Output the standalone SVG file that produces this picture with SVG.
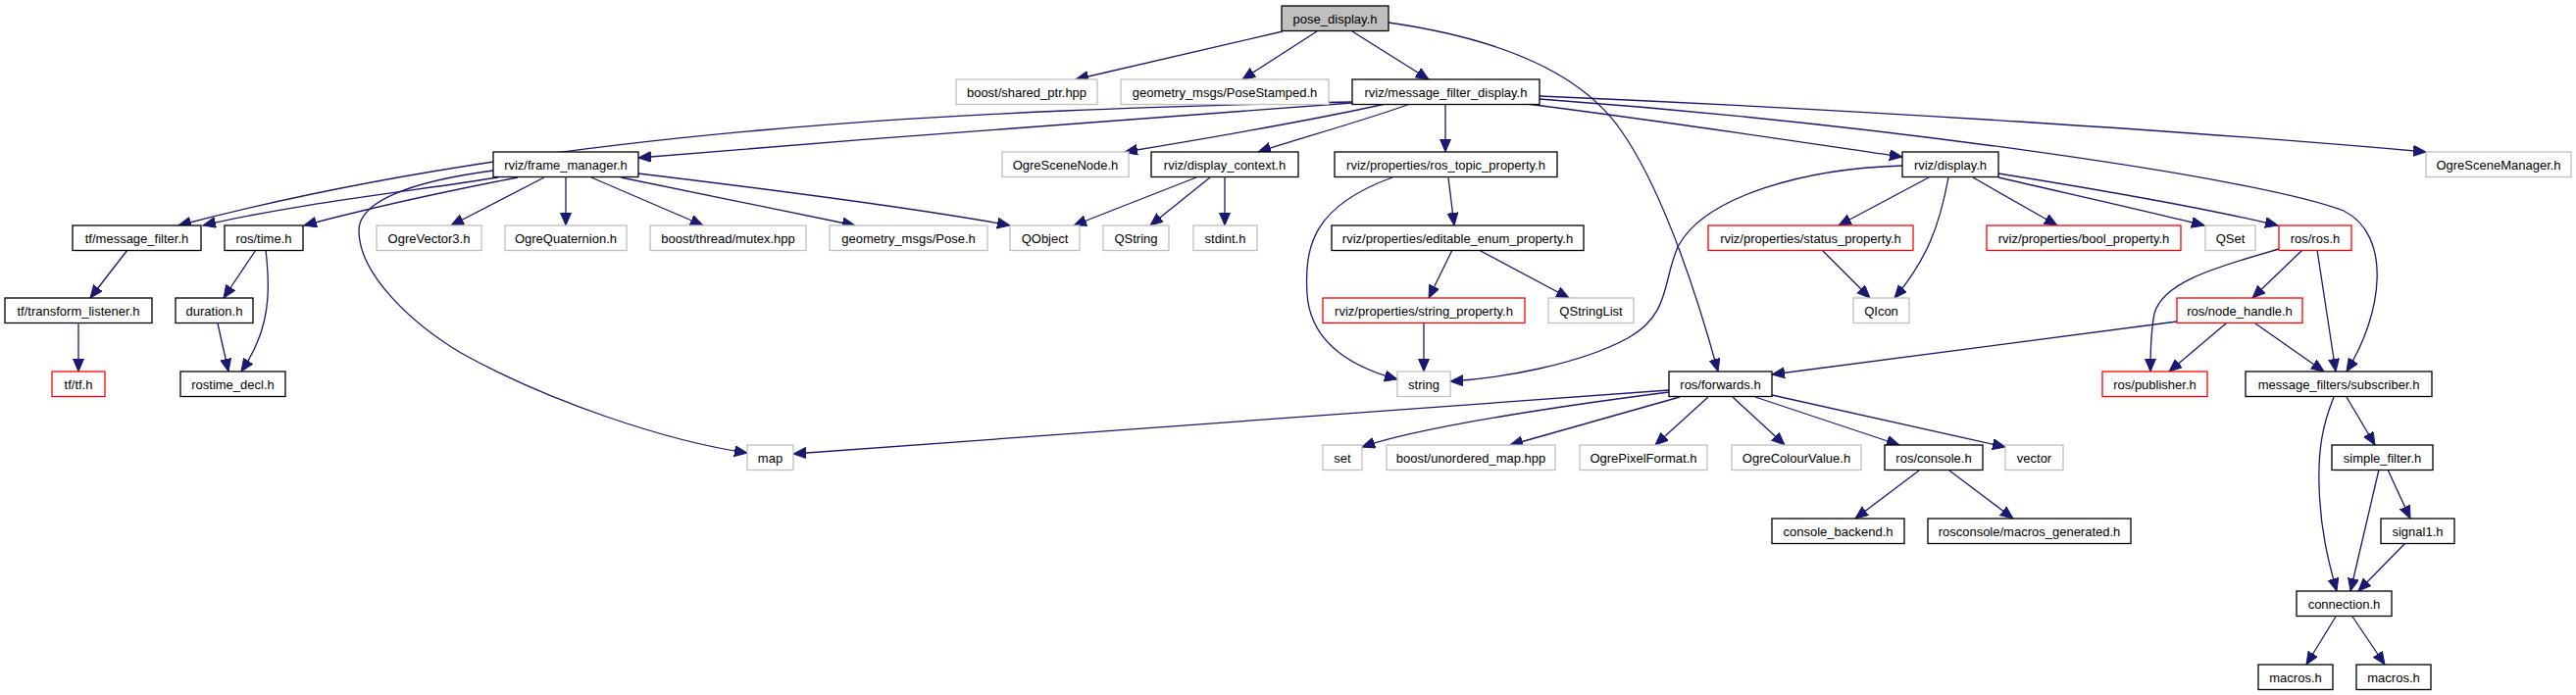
<svg xmlns="http://www.w3.org/2000/svg" width="2627" height="709" viewBox="0 0 2627 709">
<style>
rect{fill:#fff;stroke-width:1.3}
.k rect{stroke:#000}
.g rect{stroke:#bfbfbf}
.r rect{stroke:#ff0000}
.root rect{fill:#bfbfbf;stroke:#000}
text{font-family:"Liberation Sans",Arial,Helvetica,sans-serif;font-size:13px;text-anchor:middle;fill:#000}
#edges path{fill:none;stroke:#191970;stroke-width:1.3;marker-end:url(#arr)}
</style>
<defs>
<marker id="arr" markerUnits="userSpaceOnUse" markerWidth="14" markerHeight="12" refX="13" refY="5.5" orient="auto">
<path d="M0,0 L13,5.5 L0,11 z" fill="#191970" stroke="#191970" stroke-width="1"/>
</marker>
</defs>
<rect x="0" y="0" width="2627" height="709" style="fill:#fff;stroke:none"/>
<g id="edges">
<path d="M1308,32 L1097,81"/>
<path d="M1343,32 L1267,81"/>
<path d="M1379,32 L1457,81"/>
<path d="M1416,23 C1520,38 1610,70 1653,133 C1690,185 1725,280 1752,379"/>
<path d="M1379,104 C1000,112 560,130 182,230"/>
<path d="M1379,105 C1200,118 900,140 651,161"/>
<path d="M1413,106 C1350,120 1250,138 1147,155"/>
<path d="M1438,106 C1400,120 1330,140 1283,155"/>
<path d="M1474,106 L1474,155"/>
<path d="M1557,106 C1700,124 1850,147 1940,160"/>
<path d="M1570,98 C1900,112 2250,135 2474,155"/>
<path d="M1570,101 C1900,125 2300,180 2390,215 C2440,240 2430,320 2393,379"/>
<path d="M503,174 C420,185 366,205 366,235 C366,280 420,330 470,360 C560,410 680,450 762,462"/>
<path d="M508,181 C420,195 300,208 207,230"/>
<path d="M528,181 C440,198 370,214 310,230"/>
<path d="M555,181 L460,230"/>
<path d="M577,181 L577,230"/>
<path d="M603,181 L717,230"/>
<path d="M633,181 L872,230"/>
<path d="M651,177 C800,195 950,215 1030,230"/>
<path d="M1220,181 L1095,230"/>
<path d="M1234,181 L1173,230"/>
<path d="M1249,181 L1249,230"/>
<path d="M1477,181 L1483,230"/>
<path d="M1420,181 C1340,210 1330,250 1333,300 C1336,345 1370,372 1425,387"/>
<path d="M1481,255 L1457,304"/>
<path d="M1508,255 L1600,304"/>
<path d="M1452,330 L1452,379"/>
<path d="M1940,169 C1840,172 1740,200 1712,250 C1695,285 1705,320 1660,345 C1610,372 1530,386 1479,389"/>
<path d="M1967,181 L1875,230"/>
<path d="M1987,181 C1978,230 1965,265 1932,304"/>
<path d="M2012,181 L2098,230"/>
<path d="M2038,181 C2120,200 2200,218 2248,230"/>
<path d="M2038,177 C2150,195 2260,215 2323,230"/>
<path d="M1858,255 L1907,304"/>
<path d="M2348,255 L2297,304"/>
<path d="M2363,255 L2382,379"/>
<path d="M2324,254 C2250,275 2205,290 2197,320 C2193,340 2193,360 2193,379"/>
<path d="M2220,328 L1807,382"/>
<path d="M2270,330 L2212,379"/>
<path d="M2300,330 L2370,379"/>
<path d="M2393,405 L2422,454"/>
<path d="M2380,405 C2368,435 2364,460 2365,495 C2366,540 2375,575 2383,603"/>
<path d="M2426,479 L2397,603"/>
<path d="M2435,479 L2458,529"/>
<path d="M2453,554 L2405,603"/>
<path d="M2382,629 L2352,678"/>
<path d="M2399,629 L2432,678"/>
<path d="M130,255 L92,304"/>
<path d="M80,330 L80,379"/>
<path d="M261,255 L228,304"/>
<path d="M271,255 C275,290 275,320 262,350 C258,360 252,370 246,379"/>
<path d="M222,330 L233,379"/>
<path d="M1702,398 L809,463"/>
<path d="M1702,400 C1600,413 1450,435 1389,456"/>
<path d="M1713,405 L1540,454"/>
<path d="M1742,405 L1688,454"/>
<path d="M1767,405 L1820,454"/>
<path d="M1790,405 L1937,454"/>
<path d="M1807,403 L2045,456"/>
<path d="M1957,480 L1892,529"/>
<path d="M1988,480 L2053,529"/>
</g>
<g id="n_pose_display" class="root"><rect x="1307" y="6" width="109" height="25.5"/><text x="1361.5" y="23.5">pose_display.h</text></g>
<g id="n_shared_ptr" class="g"><rect x="975" y="81" width="144" height="25.5"/><text x="1047" y="98.5">boost/shared_ptr.hpp</text></g>
<g id="n_posestamped" class="g"><rect x="1143" y="81" width="212" height="25.5"/><text x="1249" y="98.5">geometry_msgs/PoseStamped.h</text></g>
<g id="n_mfd" class="k"><rect x="1379" y="81" width="191" height="25.5"/><text x="1474.5" y="98.5">rviz/message_filter_display.h</text></g>
<g id="n_frame_manager" class="k"><rect x="503" y="155" width="148" height="25.5"/><text x="577" y="172.5">rviz/frame_manager.h</text></g>
<g id="n_ogrescenenode" class="g"><rect x="1022" y="155" width="129" height="25.5"/><text x="1086.5" y="172.5">OgreSceneNode.h</text></g>
<g id="n_display_context" class="k"><rect x="1174" y="155" width="150" height="25.5"/><text x="1249" y="172.5">rviz/display_context.h</text></g>
<g id="n_ros_topic" class="k"><rect x="1361" y="155" width="227" height="25.5"/><text x="1474.5" y="172.5">rviz/properties/ros_topic_property.h</text></g>
<g id="n_display" class="k"><rect x="1940" y="155" width="98" height="25.5"/><text x="1989" y="172.5">rviz/display.h</text></g>
<g id="n_ogrescenemanager" class="g"><rect x="2474" y="155" width="148" height="25.5"/><text x="2548" y="172.5">OgreSceneManager.h</text></g>
<g id="n_tf_mf" class="k"><rect x="74" y="230" width="131" height="25.5"/><text x="139.5" y="247.5">tf/message_filter.h</text></g>
<g id="n_time" class="k"><rect x="229" y="230" width="80" height="25.5"/><text x="269" y="247.5">ros/time.h</text></g>
<g id="n_vector3" class="g"><rect x="384" y="230" width="107" height="25.5"/><text x="437.5" y="247.5">OgreVector3.h</text></g>
<g id="n_quaternion" class="g"><rect x="515" y="230" width="124" height="25.5"/><text x="577" y="247.5">OgreQuaternion.h</text></g>
<g id="n_mutex" class="g"><rect x="663" y="230" width="159" height="25.5"/><text x="742.5" y="247.5">boost/thread/mutex.hpp</text></g>
<g id="n_pose" class="g"><rect x="846" y="230" width="161" height="25.5"/><text x="926.5" y="247.5">geometry_msgs/Pose.h</text></g>
<g id="n_qobject" class="g"><rect x="1030" y="230" width="71" height="25.5"/><text x="1065.5" y="247.5">QObject</text></g>
<g id="n_qstring" class="g"><rect x="1125" y="230" width="67" height="25.5"/><text x="1158.5" y="247.5">QString</text></g>
<g id="n_stdint" class="g"><rect x="1217" y="230" width="65" height="25.5"/><text x="1249.5" y="247.5">stdint.h</text></g>
<g id="n_editable_enum" class="k"><rect x="1358" y="230" width="257" height="25.5"/><text x="1486.5" y="247.5">rviz/properties/editable_enum_property.h</text></g>
<g id="n_status" class="r"><rect x="1742" y="230" width="209" height="25.5"/><text x="1846.5" y="247.5">rviz/properties/status_property.h</text></g>
<g id="n_bool" class="r"><rect x="2026" y="230" width="198" height="25.5"/><text x="2125" y="247.5">rviz/properties/bool_property.h</text></g>
<g id="n_qset" class="g"><rect x="2249" y="230" width="51" height="25.5"/><text x="2274.5" y="247.5">QSet</text></g>
<g id="n_ros" class="r"><rect x="2324" y="230" width="74" height="25.5"/><text x="2361" y="247.5">ros/ros.h</text></g>
<g id="n_transform_listener" class="k"><rect x="5" y="304" width="150" height="25.5"/><text x="80" y="321.5">tf/transform_listener.h</text></g>
<g id="n_duration" class="k"><rect x="179" y="304" width="79" height="25.5"/><text x="218.5" y="321.5">duration.h</text></g>
<g id="n_string_property" class="r"><rect x="1349" y="304" width="206" height="25.5"/><text x="1452" y="321.5">rviz/properties/string_property.h</text></g>
<g id="n_qstringlist" class="g"><rect x="1579" y="304" width="87" height="25.5"/><text x="1622.5" y="321.5">QStringList</text></g>
<g id="n_qicon" class="g"><rect x="1890" y="304" width="57" height="25.5"/><text x="1918.5" y="321.5">QIcon</text></g>
<g id="n_node_handle" class="r"><rect x="2220" y="304" width="128" height="25.5"/><text x="2284" y="321.5">ros/node_handle.h</text></g>
<g id="n_tf" class="r"><rect x="53" y="379" width="54" height="25.5"/><text x="80" y="396.5">tf/tf.h</text></g>
<g id="n_rostime_decl" class="k"><rect x="184" y="379" width="107" height="25.5"/><text x="237.5" y="396.5">rostime_decl.h</text></g>
<g id="n_string" class="g"><rect x="1425" y="379" width="54" height="25.5"/><text x="1452" y="396.5">string</text></g>
<g id="n_forwards" class="k"><rect x="1702" y="379" width="105" height="25.5"/><text x="1754.5" y="396.5">ros/forwards.h</text></g>
<g id="n_publisher" class="r"><rect x="2144" y="379" width="107" height="25.5"/><text x="2197.5" y="396.5">ros/publisher.h</text></g>
<g id="n_subscriber" class="k"><rect x="2290" y="379" width="190" height="25.5"/><text x="2385" y="396.5">message_filters/subscriber.h</text></g>
<g id="n_map" class="g"><rect x="762" y="454" width="47" height="25.5"/><text x="785.5" y="471.5">map</text></g>
<g id="n_set" class="g"><rect x="1349" y="454" width="40" height="25.5"/><text x="1369" y="471.5">set</text></g>
<g id="n_unordered_map" class="g"><rect x="1414" y="454" width="172" height="25.5"/><text x="1500" y="471.5">boost/unordered_map.hpp</text></g>
<g id="n_pixelformat" class="g"><rect x="1611" y="454" width="130" height="25.5"/><text x="1676" y="471.5">OgrePixelFormat.h</text></g>
<g id="n_colourvalue" class="g"><rect x="1766" y="454" width="132" height="25.5"/><text x="1832" y="471.5">OgreColourValue.h</text></g>
<g id="n_console" class="k"><rect x="1922" y="454" width="100" height="25.5"/><text x="1972" y="471.5">ros/console.h</text></g>
<g id="n_vector" class="g"><rect x="2045" y="454" width="59" height="25.5"/><text x="2074.5" y="471.5">vector</text></g>
<g id="n_simple_filter" class="k"><rect x="2378" y="454" width="103" height="25.5"/><text x="2429.5" y="471.5">simple_filter.h</text></g>
<g id="n_console_backend" class="k"><rect x="1807" y="529" width="135" height="25.5"/><text x="1874.5" y="546.5">console_backend.h</text></g>
<g id="n_macros_generated" class="k"><rect x="1966" y="529" width="207" height="25.5"/><text x="2069.5" y="546.5">rosconsole/macros_generated.h</text></g>
<g id="n_signal1" class="k"><rect x="2428" y="529" width="75" height="25.5"/><text x="2465.5" y="546.5">signal1.h</text></g>
<g id="n_connection" class="k"><rect x="2342" y="603" width="97" height="25.5"/><text x="2390.5" y="620.5">connection.h</text></g>
<g id="n_macros1" class="k"><rect x="2303" y="678" width="76" height="25.5"/><text x="2341" y="695.5">macros.h</text></g>
<g id="n_macros2" class="k"><rect x="2403" y="678" width="76" height="25.5"/><text x="2441" y="695.5">macros.h</text></g>
</svg>
